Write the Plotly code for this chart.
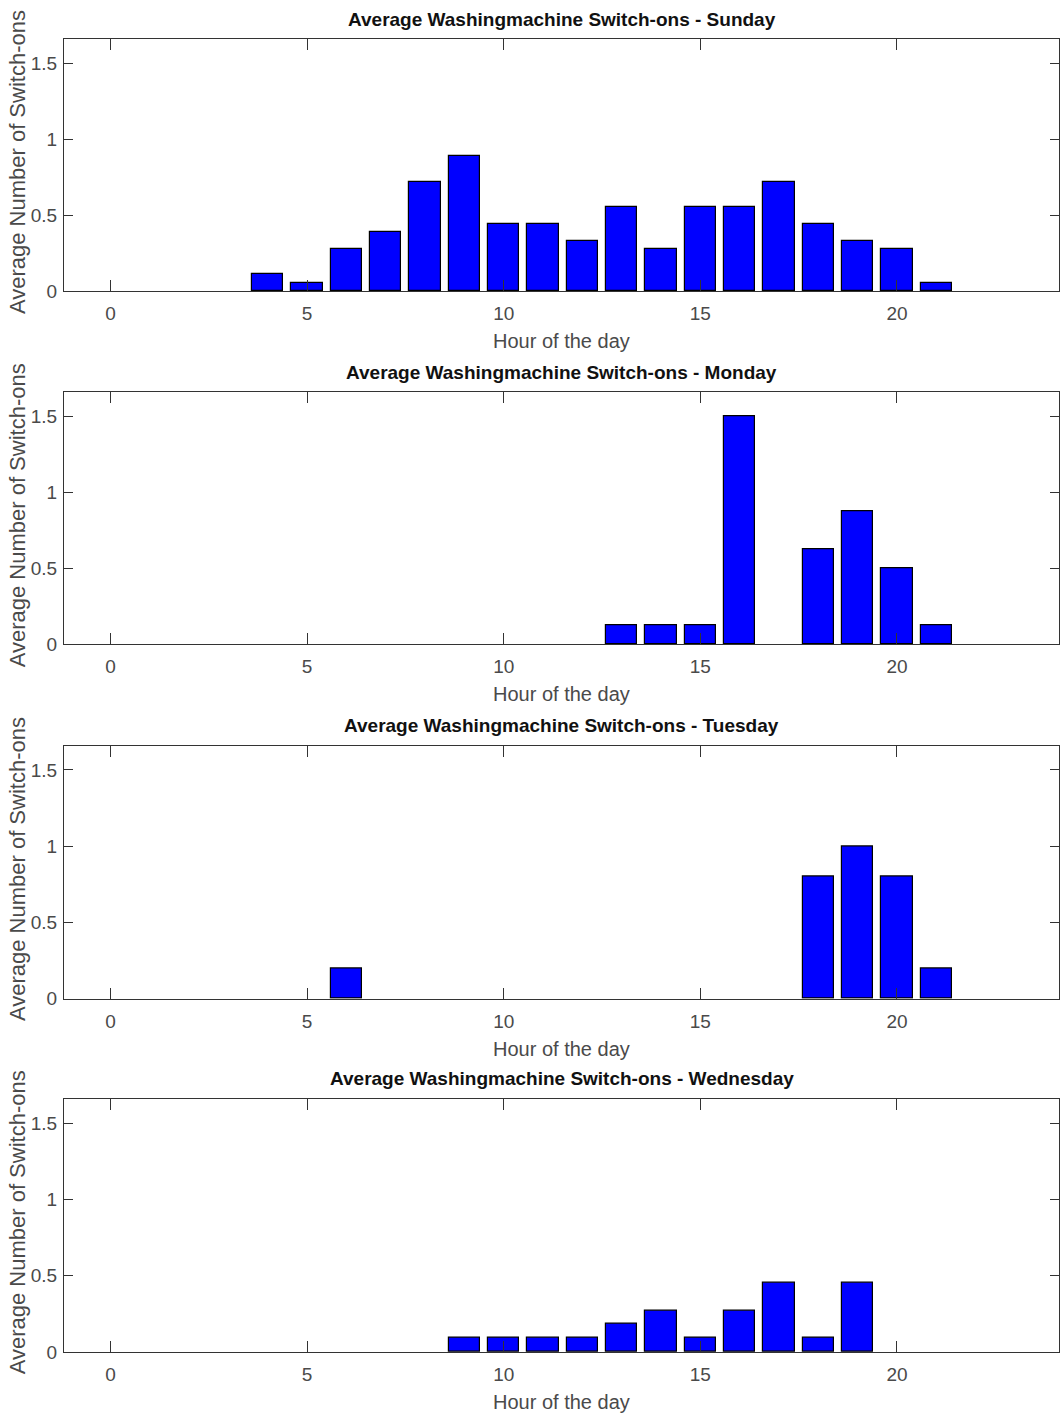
import plotly.graph_objects as go

W, H = 1060, 1416
H_EFF = 1404  # observed effective vertical pixel scale of the rendered page

hours = list(range(24))
days = ["Sunday", "Monday", "Tuesday", "Wednesday"]

sunday = [0, 0, 0, 0, 0.111, 0.056, 0.278, 0.389, 0.722, 0.889, 0.444, 0.444,
          0.333, 0.556, 0.278, 0.556, 0.556, 0.722, 0.444, 0.333, 0.278, 0.056, 0, 0]
monday = [0, 0, 0, 0, 0, 0, 0, 0, 0, 0, 0, 0,
          0, 0.125, 0.125, 0.125, 1.5, 0, 0.625, 0.875, 0.5, 0.125, 0, 0]
tuesday = [0, 0, 0, 0, 0, 0, 0.2, 0, 0, 0, 0, 0,
           0, 0, 0, 0, 0, 0, 0.8, 1.0, 0.8, 0.2, 0, 0]
wednesday = [0, 0, 0, 0, 0, 0, 0, 0, 0, 0.091, 0.091, 0.091,
             0.091, 0.182, 0.273, 0.091, 0.273, 0.455, 0.091, 0.455, 0, 0, 0, 0]

series = [sunday, monday, tuesday, wednesday]

x_tickvals = [0, 5, 10, 15, 20]
x_ticktext = ["0", "5", "10", "15", "20"]
y_tickvals = [0, 0.5, 1, 1.5]
y_ticktext = ["0", "0.5", "1", "1.5"]

title_prefix = "Average Washingmachine Switch-ons - "
x_label = "Hour of the day"
y_label = "Average Number of Switch-ons"

# layout in pixels
plot_left, plot_right = 64, 1059
tops = [39, 392, 745, 1098]
bottoms = [291, 644, 998, 1351]

def fx(px):
    return px / W

def fy(px):
    return 1 - px / H_EFF

fig = go.Figure()
annotations = []
tick_font = dict(family="Liberation Sans, Arial, sans-serif", size=19, color="#4a4a4a")
axis_col = "#333333"

for i, (day, vals) in enumerate(zip(days, series)):
    n = "" if i == 0 else str(i + 1)
    xa = "x" + n
    ya = "y" + n
    edge_w = [1.2 if v > 0 else 0 for v in vals]
    fig.add_trace(go.Bar(
        x=hours, y=vals, width=0.8,
        marker=dict(color="#0000FF", line=dict(color="#000000", width=edge_w)),
        xaxis=xa, yaxis=ya, showlegend=False,
    ))
    fig.update_layout(**{
        "xaxis" + n: dict(
            domain=[fx(plot_left), fx(plot_right)], anchor=ya,
            range=[-1.18, 24.12], tickvals=x_tickvals, ticktext=x_ticktext,
            ticks="inside", ticklen=11, tickwidth=1, tickcolor=axis_col,
            showline=True, linecolor=axis_col, linewidth=1.2, mirror="ticks",
            showgrid=False, zeroline=False, tickfont=tick_font,
            ticklabelstandoff=5, fixedrange=True,
        ),
        "yaxis" + n: dict(
            domain=[fy(bottoms[i]), fy(tops[i])], anchor=xa,
            range=[0, 1.66], tickvals=y_tickvals, ticktext=y_ticktext,
            ticks="inside", ticklen=9, tickwidth=1, tickcolor=axis_col,
            showline=True, linecolor=axis_col, linewidth=1.2, mirror="ticks",
            showgrid=False, zeroline=False, tickfont=tick_font,
            ticklabelstandoff=2, fixedrange=True,
        ),
    })
    cx = fx((plot_left + plot_right) / 2)
    annotations.append(dict(
        text="<b>" + title_prefix + day + "</b>", x=cx, y=fy(tops[i] - 20),
        xref="paper", yref="paper", xanchor="center", yanchor="middle", showarrow=False,
        font=dict(family="Liberation Sans, Arial, sans-serif", size=19, color="#111111"),
    ))
    annotations.append(dict(
        text=x_label, x=cx, y=fy(bottoms[i] + 50),
        xref="paper", yref="paper", xanchor="center", yanchor="middle", showarrow=False,
        font=dict(family="Liberation Sans, Arial, sans-serif", size=20, color="#4a4a4a"),
    ))
    annotations.append(dict(
        text=y_label, x=fx(17), y=fy((tops[i] + bottoms[i]) / 2 - 3),
        xref="paper", yref="paper", xanchor="center", yanchor="middle", showarrow=False,
        textangle=-90,
        font=dict(family="Liberation Sans, Arial, sans-serif", size=22, color="#4a4a4a"),
    ))

fig.update_layout(
    width=W, height=H,
    margin=dict(l=0, r=0, t=0, b=0),
    paper_bgcolor="white", plot_bgcolor="white",
    bargap=0, annotations=annotations,
)

post = (
    "document.documentElement.style.margin='0';"
    "document.documentElement.style.overflow='hidden';"
    "document.body.style.margin='0';"
    "document.body.style.overflow='hidden';"
    "var gd=document.getElementById('{plot_id}');"
    "gd.style.position='fixed';gd.style.left='0px';gd.style.top='0px';"
)

fig.write_html("out.html", config={"displayModeBar": False}, post_script=post)
